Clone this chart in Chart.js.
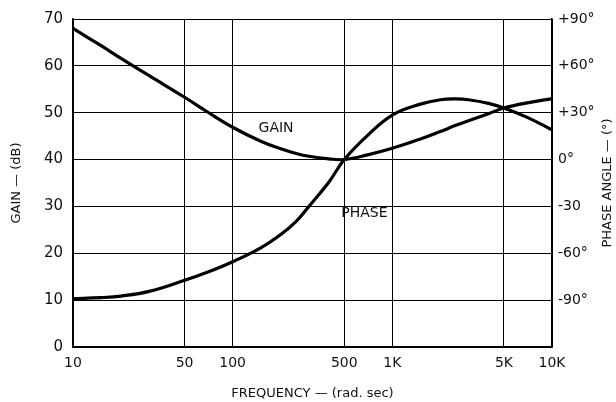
<!DOCTYPE html>
<html>
<head>
<meta charset="utf-8">
<script src="https://cdn.jsdelivr.net/npm/chart.js@4/dist/chart.umd.min.js"></script>
<style>
  html, body { margin: 0; padding: 0; background: #fff; }
  #wrap { width: 616px; height: 402px; }
</style>
</head>
<body>
<div id="wrap"><canvas id="Chart"></canvas></div>
<script>
// frequency points (rad/sec)
const freq  = [10, 15, 20, 30, 50, 70, 100, 150, 200, 250, 300, 400, 500, 700, 1000, 1500, 2000, 2500, 3000, 4000, 5000, 7000, 10000];
// gain in dB (left axis)
const gain  = [68, 64.3, 61.6, 57.9, 53.3, 50.1, 46.9, 43.9, 42.3, 41.3, 40.7, 40.15, 40, 41, 42.4, 44.4, 46.0, 47.3, 48.3, 49.8, 51, 52.1, 53];
// phase angle in degrees (right axis)
const phase = [-89, -88.4, -87.4, -84.4, -77.3, -72, -65.4, -56.5, -48, -39.5, -30, -14.5, 0, 15.5, 28.5, 35.5, 38.3, 38.8, 38.3, 36, 33, 27, 19];

const freqTicks  = [10, 50, 100, 500, 1000, 5000, 10000];
const freqLabels = ['10', '50', '100', '500', '1K', '5K', '10K'];
const gainTicks  = [0, 10, 20, 30, 40, 50, 60, 70];
const phaseTicks = [-90, -60, -30, 0, 30, 60, 90];
const phaseLabels = ['-90°', '-60°', '-30', '0°', '+30°', '+60°', '+90°'];

const font = "'DejaVu Sans', sans-serif";

// curve labels placed in data space + right axis title (reads bottom to top)
const labelPlugin = {
  id: 'curveLabels',
  afterDatasetsDraw(chart) {
    const c = chart.ctx, x = chart.scales.x, y = chart.scales.y, a = chart.chartArea;
    c.save();
    c.fillStyle = '#111';
    c.font = "14px " + font;
    c.textAlign = 'center';
    c.textBaseline = 'middle';
    c.fillText('GAIN', x.getPixelForValue(187), y.getPixelForValue(46.7));
    c.fillText('PHASE', x.getPixelForValue(668), y.getPixelForValue(28.5));
    c.translate(a.right + 56, (a.top + a.bottom) / 2);
    c.rotate(-Math.PI / 2);
    c.font = "13px " + font;
    c.fillText('PHASE ANGLE — (°)', 0, 0);
    c.restore();
  }
};

let ctx = document.getElementById("Chart");
let config = {
  type: 'scatter',
  data: {
    datasets: [{
      label: 'GAIN',
      data: freq.map((f, i) => ({x: f, y: gain[i]})),
      yAxisID: 'y',
      showLine: true,
      borderColor: '#000',
      borderWidth: 3.2,
      pointRadius: 0,
      tension: 0.4
    }, {
      label: 'PHASE',
      data: freq.map((f, i) => ({x: f, y: phase[i]})),
      yAxisID: 'y2',
      showLine: true,
      borderColor: '#000',
      borderWidth: 3.2,
      pointRadius: 0,
      tension: 0.4
    }]
  },
  options: {
    responsive: true,
    maintainAspectRatio: false,
    animation: false,
    layout: { padding: { top: 17, bottom: 0, left: 5, right: 0 } },
    plugins: { legend: { display: false }, tooltip: { enabled: false } },
    scales: {
      x: {
        type: 'logarithmic',
        min: 10, max: 10000,
        afterBuildTicks: s => { s.ticks = freqTicks.map(v => ({value: v})); },
        afterFit: s => { s.height = 55; },
        grid: { color: '#000', lineWidth: 1, drawTicks: false },
        border: { color: '#000', width: 1.5 },
        ticks: {
          color: '#111', font: { family: font, size: 14 }, padding: 8,
          maxRotation: 0, autoSkip: false,
          callback: v => { const i = freqTicks.indexOf(v); return i >= 0 ? freqLabels[i] : ''; }
        },
        title: { display: true, text: 'FREQUENCY — (rad. sec)', color: '#111', font: { family: font, size: 13 }, padding: { top: 4, bottom: 1 } }
      },
      y: {
        position: 'left',
        min: 0, max: 70,
        afterBuildTicks: s => { s.ticks = gainTicks.map(v => ({value: v})); },
        afterFit: s => { s.width = 68; },
        grid: { color: '#000', lineWidth: 1, drawTicks: false },
        border: { color: '#000', width: 1.5 },
        ticks: { color: '#111', font: { family: font, size: 15 }, padding: 10 },
        title: { display: true, text: 'GAIN — (dB)', color: '#111', font: { family: font, size: 13 } }
      },
      y2: {
        position: 'right',
        min: -120, max: 90,
        afterBuildTicks: s => { s.ticks = phaseTicks.map(v => ({value: v})); },
        afterFit: s => { s.width = 64; },
        grid: { display: false, drawTicks: false },
        border: { color: '#000', width: 1.5 },
        ticks: {
          color: '#111', font: { family: font, size: 14 }, padding: 6,
          callback: v => { const i = phaseTicks.indexOf(v); return i >= 0 ? phaseLabels[i] : ''; }
        }
      }
    }
  },
  plugins: [labelPlugin]
};
let chart = new Chart(ctx, config);
</script>
</body>
</html>
